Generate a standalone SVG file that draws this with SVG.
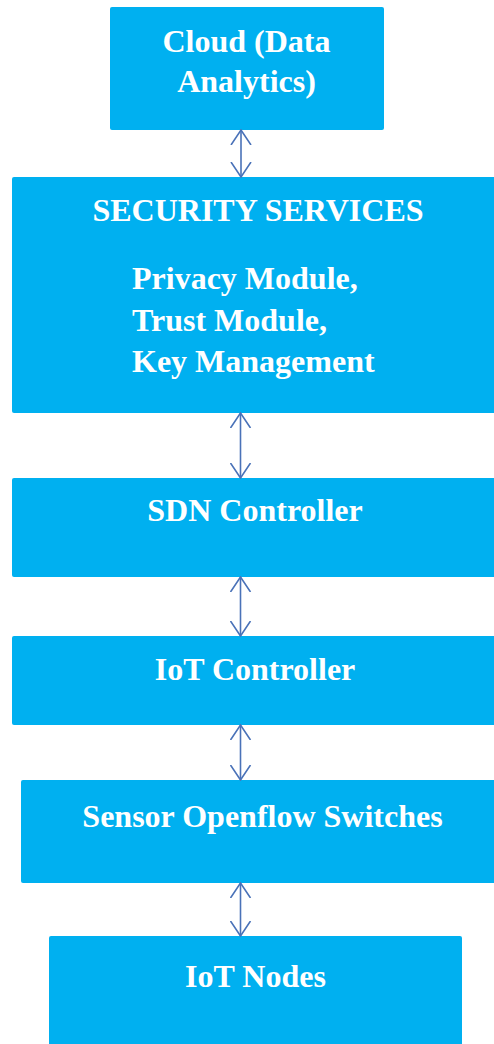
<svg xmlns="http://www.w3.org/2000/svg" width="494" height="1044" viewBox="0 0 494 1044">
  <style>
    .box { fill: #00B0F0; }
    .label { font-family: "Liberation Serif", "Times New Roman", serif; font-weight: bold; font-size: 32px; fill: #FFFFFF; }
    .mid { text-anchor: middle; }
    .link { stroke: #4A72B8; stroke-width: 1.6; fill: none; marker-start: url(#head); marker-end: url(#head); }
  </style>
  <defs>
    <!-- open V arrowhead, used at both ends of each link -->
    <marker id="head" viewBox="0 0 16 22" refX="15" refY="11" markerWidth="16" markerHeight="22" markerUnits="userSpaceOnUse" orient="auto-start-reverse">
      <path d="M0,1 L15,11 L0,21" fill="none" stroke="#4A72B8" stroke-width="1.6"/>
    </marker>
  </defs>

  <rect width="494" height="1044" fill="#FFFFFF"/>

  <g id="cloud">
    <rect class="box" x="110" y="7" width="274" height="123" rx="2"/>
    <text class="label mid" x="246.5" y="52">Cloud (Data</text>
    <text class="label mid" x="246.5" y="92">Analytics)</text>
  </g>

  <g id="security-services">
    <rect class="box" x="12" y="177" width="492" height="236" rx="2"/>
    <text class="label mid" x="258" y="221">SECURITY SERVICES</text>
    <text class="label" x="132" y="289">Privacy Module,</text>
    <text class="label" x="132" y="331">Trust Module,</text>
    <text class="label" x="132" y="372">Key Management</text>
  </g>

  <g id="sdn-controller">
    <rect class="box" x="12" y="478" width="492" height="99" rx="2"/>
    <text class="label mid" x="255" y="521">SDN Controller</text>
  </g>

  <g id="iot-controller">
    <rect class="box" x="12" y="636" width="492" height="89" rx="2"/>
    <text class="label mid" x="255" y="680">IoT Controller</text>
  </g>

  <g id="sensor-switches">
    <rect class="box" x="21" y="780" width="483" height="103" rx="2"/>
    <text class="label mid" x="262.5" y="827">Sensor Openflow Switches</text>
  </g>

  <g id="iot-nodes">
    <rect class="box" x="49" y="936" width="413" height="120" rx="2"/>
    <text class="label mid" x="255.5" y="987">IoT Nodes</text>
  </g>

  <g id="connectors">
    <line class="link" x1="241" y1="130" x2="241" y2="177"/>
    <line class="link" x1="240.5" y1="413" x2="240.5" y2="478"/>
    <line class="link" x1="240.5" y1="577" x2="240.5" y2="636"/>
    <line class="link" x1="240.5" y1="725" x2="240.5" y2="780"/>
    <line class="link" x1="240.5" y1="883" x2="240.5" y2="936"/>
  </g>
</svg>
